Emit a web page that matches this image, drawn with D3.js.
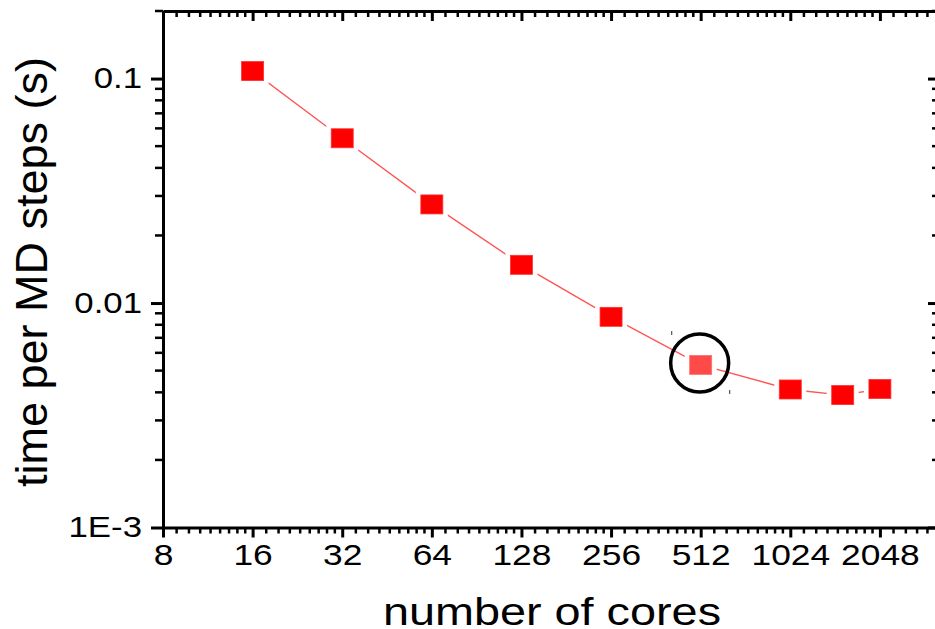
<!DOCTYPE html>
<html>
<head>
<meta charset="utf-8">
<script src="https://cdn.jsdelivr.net/npm/d3@7"></script>
<style>
  body { margin: 0; background: #fff; }
  svg { display: block; font-family: "Liberation Sans", Arial, sans-serif; }
</style>
</head>
<body>
<svg width="935" height="629"></svg>
<script>
// data
var cores = [16, 32, 64, 128, 256, 512, 1024, 1536, 2048];
var stepTime = [0.108, 0.0542, 0.0275, 0.0148, 0.00868, 0.0053, 0.00412, 0.00389, 0.00414];
var xTicks = [8, 16, 32, 64, 128, 256, 512, 1024, 2048];
var yTicks = [0.001, 0.01, 0.1];
var yTickLabels = ['1E-3', '0.01', '0.1'];
var highlighted = 512;

var plotLeft = 163, plotRight = 940, plotTop = 11, plotBottom = 527.5;

var svg = d3.select('svg');

var xScale = d3.scaleLog().base(2)
  .domain([8, 3260])
  .range([plotLeft, plotRight]);

var yScale = d3.scaleLog()
  .domain([0.001, 0.2])
  .range([plotBottom, plotTop]);

// minor ticks
var xMinor = [];
xTicks.concat([4096]).forEach(function(m) {
  for (var j = 1; j <= 8; j++) {
    var v = m * (1 + j / 9);
    if (v < 3260) xMinor.push(v);
  }
});
var yMinor = [];
[0.001, 0.01, 0.1].forEach(function(d) {
  for (var j = 2; j <= 9; j++) {
    if (d * j <= 0.2) yMinor.push(d * j);
  }
});

function styleAxis(g) {
  g.select('.domain').attr('stroke', '#000').attr('stroke-width', 3);
  g.selectAll('.tick line').attr('stroke', '#000').attr('stroke-width', 3);
}

// minor tick marks
function minorTicks(vals, fn) {
  svg.append('g')
    .selectAll('line')
    .data(vals)
    .enter()
    .append('line')
    .each(fn)
    .attr('stroke', '#000')
    .attr('stroke-width', 2.5);
}
minorTicks(xMinor, function(d) {
  d3.select(this).attr('x1', xScale(d)).attr('x2', xScale(d)).attr('y1', plotBottom).attr('y2', plotBottom + 6);
});
minorTicks(xMinor, function(d) {
  d3.select(this).attr('x1', xScale(d)).attr('x2', xScale(d)).attr('y1', plotTop).attr('y2', plotTop + 6);
});
minorTicks(yMinor, function(d) {
  d3.select(this).attr('x1', plotLeft - 8).attr('x2', plotLeft).attr('y1', yScale(d)).attr('y2', yScale(d));
});
minorTicks(yMinor, function(d) {
  d3.select(this).attr('x1', plotRight - 8).attr('x2', plotRight).attr('y1', yScale(d)).attr('y2', yScale(d));
});

// bottom axis
var xAxis = d3.axisBottom(xScale)
  .tickValues(xTicks)
  .tickFormat(d3.format('d'))
  .tickSize(10)
  .tickSizeOuter(0)
  .tickPadding(7);

svg.append('g')
  .attr('transform', 'translate(0,' + plotBottom + ')')
  .call(xAxis)
  .call(styleAxis)
  .call(function(g) {
    g.selectAll('text')
      .attr('font-size', 29)
      .attr('font-family', '"Liberation Sans", Arial, sans-serif')
      .attr('fill', '#000')
      .attr('transform', 'scale(1.22,1)');
  });

// top axis (ticks inward, no labels)
svg.append('g')
  .attr('transform', 'translate(0,' + plotTop + ')')
  .call(d3.axisTop(xScale).tickValues(xTicks).tickFormat('').tickSize(-10).tickSizeOuter(0))
  .call(styleAxis);

// left axis
var yAxis = d3.axisLeft(yScale)
  .tickValues(yTicks)
  .tickFormat(function(d, i) { return yTickLabels[i]; })
  .tickSize(12)
  .tickSizeOuter(0)
  .tickPadding(9);

svg.append('g')
  .attr('transform', 'translate(' + plotLeft + ',0)')
  .call(yAxis)
  .call(styleAxis)
  .call(function(g) {
    g.selectAll('text')
      .attr('font-size', 29)
      .attr('font-family', '"Liberation Sans", Arial, sans-serif')
      .attr('fill', '#000')
      .attr('x', 0)
      .attr('transform', 'translate(-21,0) scale(1.2,1)');
  });

// right axis (ticks inward, no labels)
svg.append('g')
  .attr('transform', 'translate(' + plotRight + ',0)')
  .call(d3.axisRight(yScale).tickValues(yTicks).tickFormat('').tickSize(-12).tickSizeOuter(0))
  .call(styleAxis);

// connecting line
var line = d3.line()
  .x(function(d, i) { return xScale(d); })
  .y(function(d, i) { return yScale(stepTime[i]); });

svg.append('path')
  .datum(cores)
  .attr('d', line)
  .attr('fill', 'none')
  .attr('stroke', '#ff5555')
  .attr('stroke-width', 1.4);

// white halo so the line stops short of the markers
var mw = 22, mh = 19;
svg.append('g')
  .selectAll('rect')
  .data(cores)
  .enter()
  .append('rect')
  .attr('x', function(d) { return xScale(d) - mw / 2 - 5; })
  .attr('y', function(d, i) { return yScale(stepTime[i]) - mh / 2 - 4; })
  .attr('width', mw + 10)
  .attr('height', mh + 8)
  .attr('fill', '#fff');

svg.append('g')
  .selectAll('rect')
  .data(cores)
  .enter()
  .append('rect')
  .attr('x', function(d) { return xScale(d) - mw / 2; })
  .attr('y', function(d, i) { return yScale(stepTime[i]) - mh / 2; })
  .attr('width', mw)
  .attr('height', mh)
  .attr('fill', function(d) { return d === highlighted ? '#ff4a4a' : '#ff0000'; })
  .attr('stroke', function(d) { return d === highlighted ? '#ff7070' : '#ff3030'; })
  .attr('stroke-width', 0.8);

// annotation circle around the highlighted point
var hi = cores.indexOf(highlighted);
var cx = xScale(highlighted) - 1, cy = yScale(stepTime[hi]) - 2;
svg.append('circle')
  .attr('cx', cx)
  .attr('cy', cy)
  .attr('r', 29)
  .attr('fill', 'none')
  .attr('stroke', '#000')
  .attr('stroke-width', 3.5);

svg.append('line')
  .attr('x1', cx - 28).attr('x2', cx - 28)
  .attr('y1', cy - 32).attr('y2', cy - 28)
  .attr('stroke', '#555').attr('stroke-width', 1.2);
svg.append('line')
  .attr('x1', cx + 30).attr('x2', cx + 30)
  .attr('y1', cy + 27).attr('y2', cy + 31)
  .attr('stroke', '#555').attr('stroke-width', 1.2);

// axis titles
svg.append('text')
  .attr('transform', 'translate(552,625) scale(1.2,1)')
  .attr('text-anchor', 'middle')
  .attr('font-size', 39)
  .attr('fill', '#000')
  .text('number of cores');

svg.append('text')
  .attr('transform', 'translate(47,272) rotate(-90)')
  .attr('text-anchor', 'middle')
  .attr('font-size', 45)
  .attr('fill', '#000')
  .text('time per MD steps (s)');
</script>
</body>
</html>
